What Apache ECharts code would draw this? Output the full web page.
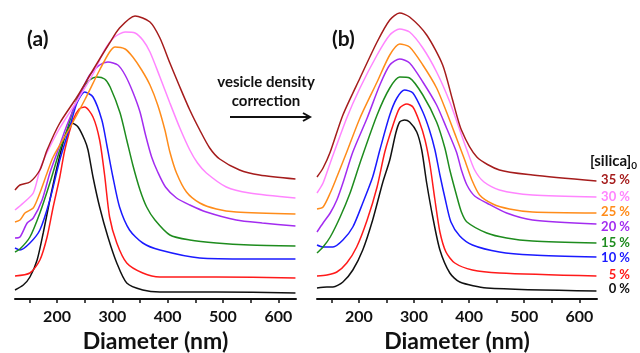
<!DOCTYPE html>
<html>
<head>
<meta charset="utf-8">
<script src="https://cdn.jsdelivr.net/npm/echarts@6/dist/echarts.min.js"></script>
<style>
  html, body { margin: 0; padding: 0; background: #fff; }
  #chart { width: 640px; height: 353px; }
</style>
</head>
<body>
<div id="chart"></div>
<script>
// silica concentrations, one curve per value (offset intensity, arb. units)
const levels = ["0 %", "5 %", "10 %", "15 %", "20 %", "25 %", "30 %", "35 %"]
const colors = ["#111111", "#ff1a1a", "#1a1aff", "#1e8c1e", "#a32cf0", "#ff8c1a", "#ff85ff", "#a51c1c"]
const tickValues = [200, 300, 400, 500, 600]
const minorTicks = [150, 200, 250, 300, 350, 400, 450, 500, 550, 600]

// (a) raw size distributions  [diameter nm, offset intensity]
const a0 = [[124,9],[139,14],[151,22],[164,39],[175,66],[187,99],[200,132],[214,162],[227,176],[238,172],[250,159],[256,149],[265,122],[277,92],[292,62],[308,36],[326,16],[355,9],[386,7],[488,7],[631,6]]
const a5 = [[124,23],[151,26],[169,39],[182,62],[193,92],[205,122],[214,149],[229,179],[240,190],[250,192],[265,182],[277,159],[286,124],[295,82],[308,56],[326,36],[355,26],[386,22],[488,22],[631,21]]
const a10 = [[124,51],[133,49],[151,56],[169,69],[187,99],[205,139],[223,172],[236,196],[250,207],[265,202],[281,179],[290,154],[301,122],[313,92],[331,69],[355,56],[386,49],[458,41],[548,40],[631,40]]
const a15 = [[124,47],[133,50],[151,62],[169,86],[187,116],[205,149],[218,169],[232,194],[247,211],[259,219],[272,222],[286,220],[296,212],[314,186],[326,159],[337,134],[350,109],[362,92],[377,79],[404,64],[440,59],[488,56],[548,54],[631,53]]
const a20 = [[124,61],[133,62],[146,76],[157,81],[173,99],[187,126],[200,146],[218,174],[241,204],[259,224],[277,234],[292,237],[310,234],[323,224],[337,207],[350,187],[360,164],[371,142],[382,127],[396,112],[416,101],[440,94],[470,87],[524,79],[571,76],[631,73]]
const a25 = [[124,77],[133,79],[142,86],[157,91],[169,106],[182,126],[193,142],[223,171],[250,199],[277,229],[295,247],[305,252],[323,250],[337,242],[353,229],[368,214],[382,194],[395,169],[404,147],[416,126],[434,107],[458,96],[488,90],[524,87],[631,85]]
const a30 = [[124,89],[139,96],[157,106],[169,129],[178,142],[205,171],[236,198],[265,225],[286,249],[304,262],[323,267],[341,266],[355,259],[368,247],[386,222],[404,196],[422,171],[440,149],[454,136],[470,126],[506,112],[548,106],[631,101]]
const a35 = [[124,109],[133,114],[151,117],[169,129],[182,149],[205,176],[236,202],[265,229],[295,256],[313,271],[341,283],[368,277],[386,261],[404,236],[422,212],[440,189],[458,169],[476,151],[494,140],[530,129],[566,124],[631,120]]

// (b) after vesicle density correction
const b0 = [[124,11],[142,12],[153,12],[171,17],[189,29],[207,49],[225,79],[243,116],[256,139],[267,166],[274,177],[283,179],[292,177],[305,167],[314,149],[323,116],[334,82],[347,49],[365,26],[383,17],[432,11],[631,8]]
const b5 = [[124,23],[142,24],[160,27],[178,36],[196,52],[215,79],[233,112],[247,147],[262,174],[274,191],[287,195],[298,192],[310,177],[320,159],[329,134],[338,99],[347,67],[358,47],[374,36],[406,29],[455,26],[631,23]]
const b10 = [[124,54],[135,52],[153,52],[171,59],[189,72],[207,96],[225,122],[238,149],[256,184],[269,201],[283,209],[298,206],[316,187],[328,169],[338,149],[347,124],[357,99],[367,77],[383,63],[406,54],[455,47],[515,44],[631,42]]
const b15 = [[124,46],[135,52],[148,62],[166,82],[184,106],[202,136],[233,184],[256,211],[274,222],[292,221],[316,204],[341,177],[356,151],[365,129],[377,104],[386,87],[396,77],[432,66],[468,61],[515,58],[631,56]]
const b20 = [[124,67],[135,76],[148,86],[160,99],[171,116],[189,147],[215,181],[238,214],[256,234],[274,240],[292,236],[316,217],[341,194],[359,171],[377,147],[386,129],[396,114],[410,103],[432,96],[468,86],[515,79],[631,75]]
const b25 = [[124,90],[135,92],[148,106],[160,122],[178,147],[202,181],[233,217],[256,244],[274,255],[292,252],[316,234],[341,211],[359,187],[377,161],[392,139],[405,119],[419,104],[443,95],[473,90],[515,87],[631,86]]
const b30 = [[124,106],[135,116],[148,136],[178,181],[202,211],[233,244],[256,264],[274,270],[292,267],[316,251],[341,227],[365,197],[383,169],[396,149],[410,129],[427,117],[455,109],[515,104],[631,102]]
const b35 = [[124,122],[135,131],[148,147],[171,184],[202,221],[233,257],[256,279],[274,286],[292,282],[323,264],[352,234],[370,199],[386,169],[414,142],[455,129],[515,124],[631,118]]

const panelA = [a0, a5, a10, a15, a20, a25, a30, a35]
const panelB = [b0, b5, b10, b15, b20, b25, b30, b35]

const chart = echarts.init(document.getElementById("chart"))
const font = "Lato, 'Open Sans', sans-serif"

const makeX = (gridIndex) => ({
  gridIndex,
  type: "value",
  min: 124,
  max: 632,
  name: "Diameter (nm)",
  nameLocation: "middle",
  nameGap: 29,
  nameTextStyle: { fontFamily: font, fontWeight: "bold", fontSize: 23, color: "#111" },
  axisLine: { show: true, lineStyle: { color: "#111", width: 2 } },
  axisTick: { show: true, customValues: minorTicks, length: 4, lineStyle: { color: "#111", width: 1.5 } },
  axisLabel: { customValues: tickValues, margin: 10, fontFamily: font, fontWeight: "bold", fontSize: 16, color: "#111" },
  splitLine: { show: false },
})

const makeY = (gridIndex) => ({
  gridIndex,
  type: "value",
  min: 0,
  max: 289,
  show: false,
})

const series = []
panelA.forEach((d, i) => {
  series.push({
    type: "line", xAxisIndex: 0, yAxisIndex: 0, data: d,
    smooth: 0.25, symbol: "none", silent: true,
    lineStyle: { color: colors[i], width: 1.5 },
  })
})
panelB.forEach((d, i) => {
  series.push({
    type: "line", xAxisIndex: 1, yAxisIndex: 1, data: d,
    smooth: 0.25, symbol: "none", silent: true,
    lineStyle: { color: colors[i], width: 1.5 },
  })
})

// label y positions of the concentration list (right side)
const labelY = [289, 275, 258, 243, 227, 212, 197, 180]

const graphics = [
  { type: "text", left: 27, top: 29, style: { text: "(a)", font: `bold 21px ${font}`, fill: "#111" } },
  { type: "text", left: 332, top: 29, style: { text: "(b)", font: `bold 21px ${font}`, fill: "#111" } },
  { type: "text", x: 266, y: 82, style: { text: "vesicle density", font: `bold 15px ${font}`, fill: "#111", align: "center", verticalAlign: "middle" } },
  { type: "text", x: 266, y: 101, style: { text: "correction", font: `bold 15px ${font}`, fill: "#111", align: "center", verticalAlign: "middle" } },
  { type: "line", shape: { x1: 230, y1: 117, x2: 309, y2: 117 }, style: { stroke: "#111", lineWidth: 2 } },
  { type: "polyline", shape: { points: [[303, 113], [310, 117], [303, 121]] }, style: { stroke: "#111", lineWidth: 2, fill: null } },
  {
    type: "text", x: 590, y: 161,
    style: {
      text: "{m|[silica]}{s|0}",
      verticalAlign: "middle",
      rich: {
        m: { font: `bold 15px ${font}`, fill: "#111" },
        s: { font: `bold 10px ${font}`, fill: "#111", padding: [10, 0, 0, 0] },
      },
    },
  },
]
levels.forEach((t, i) => {
  graphics.push({
    type: "text", x: 630, y: labelY[i],
    style: { text: t, font: `bold 13px ${font}`, fill: colors[i], align: "right", verticalAlign: "middle" },
  })
})

chart.setOption({
  animation: false,
  backgroundColor: "#fff",
  grid: [
    { left: 15, top: 10, width: 281, height: 289, outerBoundsMode: "none" },
    { left: 317, top: 10, width: 280, height: 289, outerBoundsMode: "none" },
  ],
  xAxis: [makeX(0), makeX(1)],
  yAxis: [makeY(0), makeY(1)],
  series,
  graphic: graphics,
})
</script>
</body>
</html>
